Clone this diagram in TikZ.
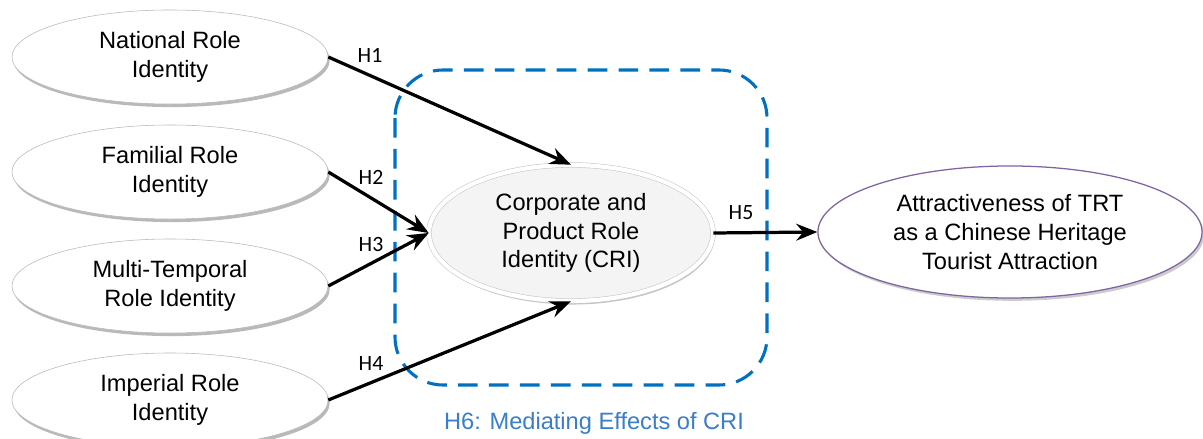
\documentclass[tikz,border=0pt]{standalone}
\usepackage{fontspec}
\setmainfont{Liberation Sans}
\newfontfamily\hypfont{Carlito}
\usetikzlibrary{shapes.geometric,arrows.meta,shadows}

\definecolor{boxblue}{RGB}{0,112,192}
\definecolor{labelblue}{RGB}{58,125,200}
\definecolor{trtpurple}{RGB}{128,100,162}

\tikzset{
  roleell/.style={ellipse, draw=gray!55, fill=white, minimum width=7.9cm, minimum height=2.35cm,
    align=center, font=\fontsize{16.8}{20.5}\selectfont,
    drop shadow={opacity=0.55, shadow xshift=1.2pt, shadow yshift=-2.2pt}},
  hyp/.style={font=\hypfont\fontsize{15.5}{17}\selectfont},
  path arrow/.style={line width=2.3pt, -{Stealth[length=15pt, width=12pt, inset=5pt]}},
}

\begin{document}
\begin{tikzpicture}[x=0.025cm, y=-0.025cm]
        \useasboundingbox (0,0) rectangle (1203,439);
        % mediating box
        \draw[boxblue, line width=2.2pt, dash pattern=on 14pt off 8pt, rounded corners=1.2cm] (395,70) rectangle (767,385);
        \node[text=labelblue, font=\fontsize{16.8}{20}\selectfont] (h6) at (594,423) {H6: Mediating Effects of CRI};

        % role identities
        \node[roleell] (nat) at (170,57) {National Role\\Identity};
        \node[roleell] (fam) at (170,172) {Familial Role\\Identity};
        \node[roleell] (mul) at (170,286) {Multi-Temporal\\Role Identity};
        \node[roleell] (imp) at (170,400) {Imperial Role\\Identity};

        \node[ellipse, draw=gray!45, double=white, double distance=3pt, fill=gray!9,
              minimum width=7.1cm, minimum height=3.4cm, align=center,
              font=\fontsize{16.8}{20.5}\selectfont,
              drop shadow={opacity=0.45, shadow xshift=1pt, shadow yshift=-2.5pt}] (cri) at (571,233)
              {Corporate and\\Product Role\\Identity (CRI)};
        \node[ellipse, draw=trtpurple, line width=0.9pt, fill=white, minimum width=9.6cm, minimum height=3.3cm,
              align=center, font=\fontsize{16.8}{20.5}\selectfont,
              drop shadow={opacity=0.4, shadow xshift=1.5pt, shadow yshift=-2pt}] (trt) at (1010,232)
              {Attractiveness of TRT\\as a Chinese Heritage\\Tourist Attraction};

        % hypotheses
        \draw[path arrow] (nat.east) -- (cri.north);
        \draw[path arrow] (fam.east) -- (cri.west);
        \draw[path arrow] (mul.east) -- (cri.west);
        \draw[path arrow] (imp.east) -- (cri.south);
        \draw[path arrow] (cri.east) -- (trt.west);

        \node[hyp] (h1) at (370,55) {H1};
        \node[hyp] (h2) at (371,177) {H2};
        \node[hyp] (h3) at (371,245) {H3};
        \node[hyp] (h4) at (371,364) {H4};
        \node[hyp] (h5) at (741,213) {H5};
\end{tikzpicture}
\end{document}
